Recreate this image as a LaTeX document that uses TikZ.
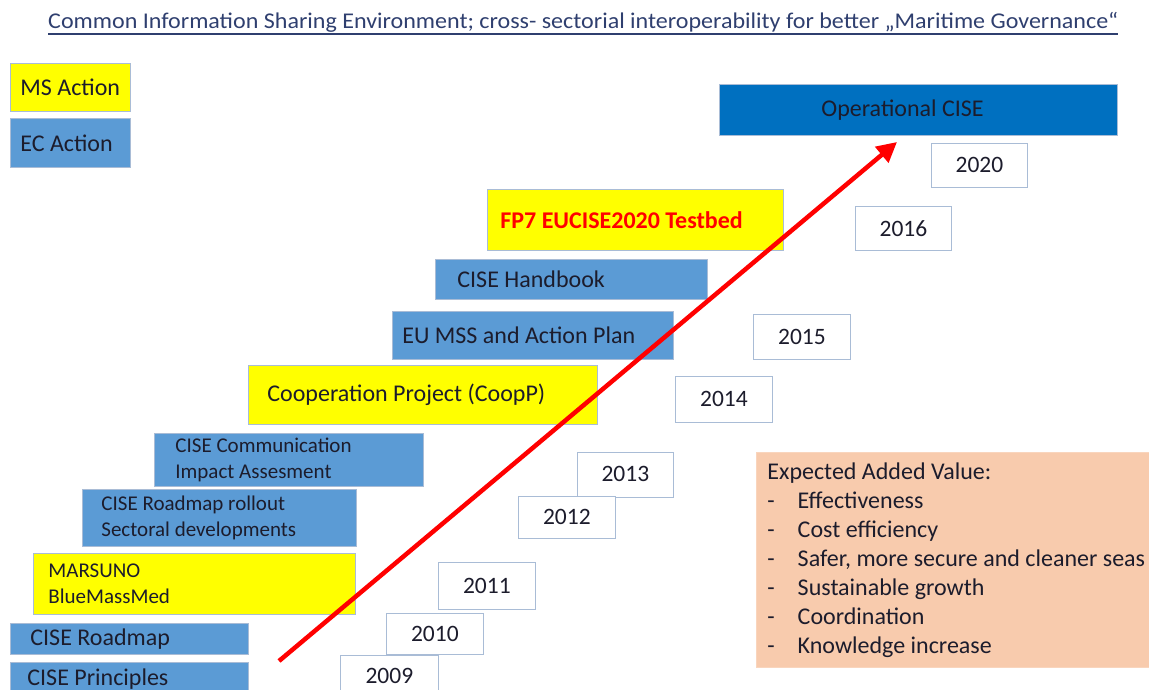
\documentclass[tikz,border=0pt]{standalone}
\usepackage{fontspec}
\usepackage{graphicx}
\setmainfont{Carlito}
\usetikzlibrary{arrows.meta}
\definecolor{ylw}{HTML}{FFFF00}
\definecolor{blu}{HTML}{5B9BD5}
\definecolor{dblu}{HTML}{0070C0}
\definecolor{peach}{HTML}{F8CBAD}
\definecolor{bord}{HTML}{A9BCD6}
\definecolor{txt}{HTML}{1C1C2C}
\definecolor{navy}{HTML}{2F3F6F}
\definecolor{arrred}{HTML}{FF0000}
\tikzset{
  every node/.style={execute at begin node={\spaceskip=\fontdimen2\font\relax}},
  bx/.style={draw=bord, line width=0.8pt, inner ysep=0pt, anchor=north west, align=left, text=txt},
  yb/.style={bx, fill=ylw},
  bb/.style={bx, fill=blu},
  yr/.style={draw=bord, line width=0.8pt, fill=white, inner sep=0pt, anchor=north west, align=center, text=txt, font=\fontsize{23.5}{26}\selectfont},
  f20/.style={font=\fontsize{24}{28}\selectfont},
  f18/.style={font=\fontsize{21}{26}\selectfont},
}
\begin{document}
\begin{tikzpicture}[x=1pt,y=-1pt]
\useasboundingbox (0,0) rectangle (1149,690);
% title
\node[anchor=base west, inner sep=0pt, text=navy, font=\fontsize{22.5}{24}\selectfont] (title) at (48,29) {\resizebox{1070pt}{\height}{Common Information Sharing Environment; cross- sectorial interoperability for better „Maritime Governance“}};
\draw[navy, line width=1.2pt] ([yshift=-5pt]title.base west) -- ([yshift=-5pt]title.base east);
% legend
\node[yb, f20, minimum height=48, text width=100, inner xsep=10] (ms) at (10,63) {\mbox{MS Action}};
\node[bb, f20, minimum height=49, text width=100, inner xsep=10] (ec) at (10,118) {\mbox{EC Action}};
% operational
\node[bx, fill=dblu, f20, minimum height=51, text width=194, inner xsep=102] (op) at (719,84) {\mbox{Operational CISE}};
% timeline boxes
\node[yb, minimum height=61, text width=270, inner xsep=13, text=arrred, font=\fontsize{24}{26}\selectfont\bfseries] (fp7) at (487,189) {FP7 EUCISE2020 Testbed};
\node[bb, f20, minimum height=40, text width=228, inner xsep=22] (hb) at (435,259) {CISE Handbook};
\node[bb, f20, minimum height=48, text width=261, inner xsep=10] (mss) at (392,311) {EU MSS and Action Plan};
\node[yb, f20, minimum height=59, text width=311, inner xsep=19] (coop) at (248,365) {Cooperation Project (CoopP)};
\node[bb, f18, minimum height=53, text width=227, inner xsep=21] (comm) at (154,433) {CISE Communication\\Impact Assesment};
\node[bb, f18, minimum height=57, text width=236, inner xsep=19] (roll) at (82,489) {CISE Roadmap rollout\\Sectoral developments};
\node[yb, f18, minimum height=61, text width=292, inner xsep=15] (mars) at (33,553) {MARSUNO\\BlueMassMed};
\node[bb, f20, minimum height=31, text width=198, inner xsep=20] (rm) at (10,623) {CISE Roadmap};
\node[bb, f20, minimum height=34, text width=204, inner xsep=17] (pr) at (10,662) {\raisebox{-4pt}{CISE Principles}};
% years
\node[yr, minimum width=96, minimum height=44] (y2020) at (931,143) {2020};
\node[yr, minimum width=96, minimum height=44] (y2016) at (855,206) {2016};
\node[yr, minimum width=97, minimum height=45] (y2015) at (753,314) {2015};
\node[yr, minimum width=97, minimum height=46] (y2014) at (675,376) {2014};
\node[yr, minimum width=96, minimum height=45] (y2013) at (577,452) {\raisebox{3pt}{2013}};
\node[yr, minimum width=97, minimum height=42] (y2012) at (518,496) {2012};
\node[yr, minimum width=97, minimum height=47] (y2011) at (438,562) {2011};
\node[yr, minimum width=97, minimum height=41] (y2010) at (386,613) {2010};
\node[yr, minimum width=98, minimum height=42] (y2009) at (340,655) {\raisebox{-3pt}{2009}};
% expected value
\node[draw=peach!80!white, fill=peach, line width=0.8pt, anchor=north west, inner xsep=11, inner ysep=10, text width=395, align=left, text=txt, font=\fontsize{24}{29}\selectfont] (ev) at (756,452) {Expected Added Value:\\
-\hspace{23pt}Effectiveness\\
-\hspace{23pt}Cost efficiency\\
-\hspace{23pt}Safer, more secure and cleaner seas\\
-\hspace{23pt}Sustainable growth\\
-\hspace{23pt}Coordination\\
-\hspace{23pt}Knowledge increase};
% arrow
\coordinate (aS) at (279,661);
\coordinate (aE) at (897,142);
\draw[arrred, line width=4.5pt, -{Triangle[length=20pt,width=20pt]}] (aS) -- (aE);
\end{tikzpicture}
\end{document}
